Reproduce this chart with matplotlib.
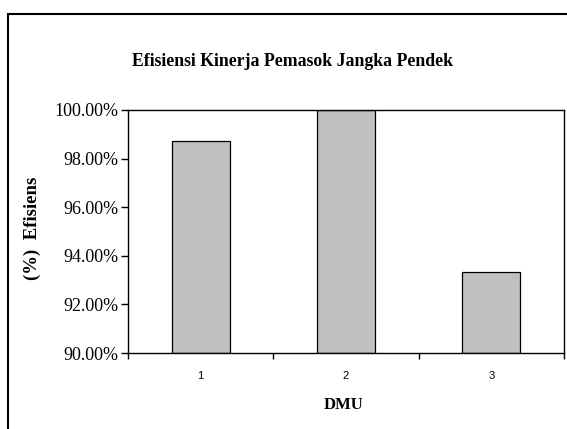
import matplotlib.pyplot as plt
from matplotlib.patches import Rectangle

# data
dmu = ["1", "2", "3"]
efisiensi = [98.74, 100.0, 93.32]
y_ticks = [90, 92, 94, 96, 98, 100]

W, H = 567, 429
fig = plt.figure(figsize=(W / 100, H / 100), dpi=100, facecolor="white")

# outer chart frame (cut off at right and bottom)
fig.patches.append(Rectangle((8 / W, -0.05), 1.2, 1.05 - 14 / H,
                             transform=fig.transFigure, fill=False,
                             edgecolor="black", linewidth=1.5))

ax = fig.add_axes([128 / W, (H - 353) / H, (564 - 128) / W, (353 - 110) / H])
x = range(len(dmu))
ax.bar(x, [v - 90 for v in efisiensi], bottom=90, width=0.4,
       color="#C0C0C0", edgecolor="black", linewidth=0.9)

ax.set_xlim(-0.5, 2.5)
ax.set_ylim(90, 100)
ax.set_yticks(y_ticks)
ax.set_yticklabels([f"{v:.2f}%" for v in y_ticks], fontfamily="Liberation Serif", fontsize=13)
ax.tick_params(axis="y", direction="out", length=5, width=1, pad=2)

ax.set_xticks([0, 1, 2])
ax.set_xticklabels(dmu, fontfamily="Liberation Sans", fontsize=8)
ax.set_xticks([-0.5, 0.5, 1.5, 2.5], minor=True)
ax.tick_params(axis="x", which="major", length=0, pad=13)
ax.tick_params(axis="x", which="minor", direction="out", length=4, width=1)

for s in ax.spines.values():
    s.set_linewidth(1.0)

fig.text(292 / W, 1 - 62 / H, "Efisiensi Kinerja Pemasok Jangka Pendek",
         ha="center", va="center", fontfamily="Liberation Serif",
         fontweight="bold", fontsize=12.8)
fig.text(32 / W, 1 - 228 / H, "(%)  Efisiens", rotation=90,
         ha="center", va="center", fontfamily="Liberation Serif",
         fontweight="bold", fontsize=13.5)
fig.text(344 / W, 1 - 405 / H, "DMU", ha="center", va="center",
         fontfamily="Liberation Serif", fontweight="bold", fontsize=12)

fig.savefig("out.png", dpi=100, facecolor="white")
